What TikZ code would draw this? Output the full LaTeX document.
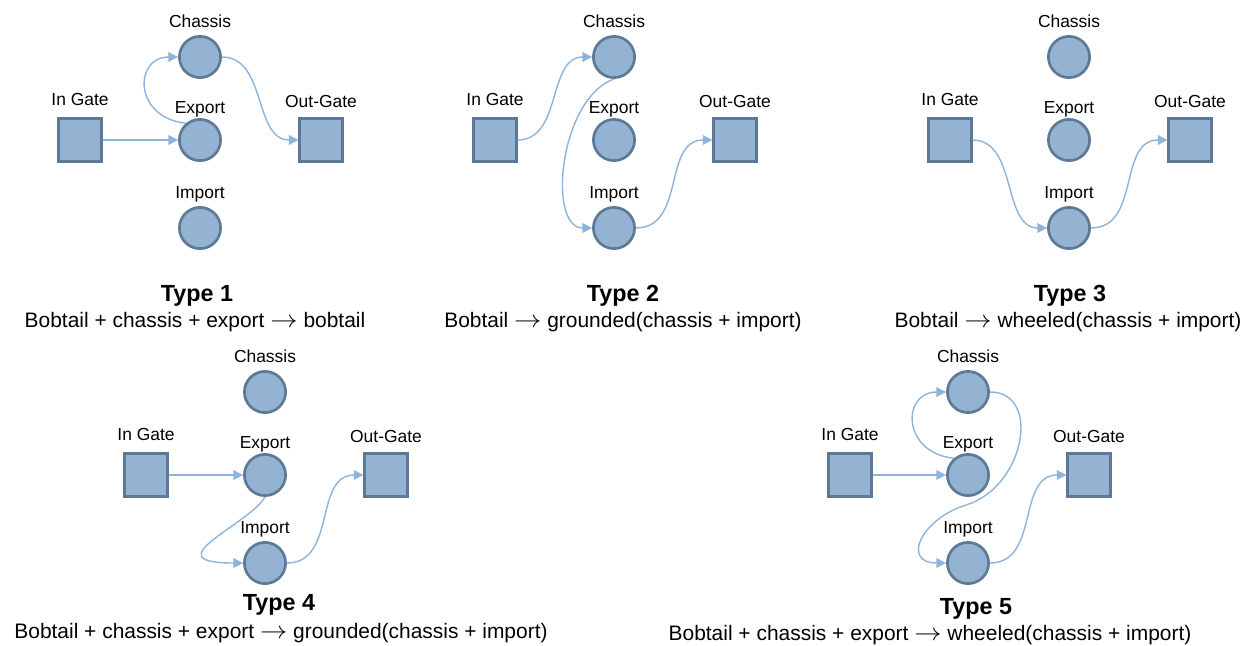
\documentclass[tikz,border=0pt]{standalone}
\usepackage{fontspec}
\setmainfont{Liberation Sans}
\usetikzlibrary{arrows.meta}
\definecolor{placefill}{RGB}{148,179,211}
\definecolor{placeline}{RGB}{94,121,150}
\definecolor{flowblue}{RGB}{141,180,218}
\newcommand{\yields}{\scalebox{1.35}[1.2]{$\rightarrow$}}

\begin{document}
\begin{tikzpicture}[
    x=0.25mm, y=-0.25mm,
    place/.style={circle, draw=placeline, fill=placefill, line width=1.9pt, minimum size=10.3mm, inner sep=0pt},
    gate/.style={rectangle, draw=placeline, fill=placefill, line width=1.9pt, minimum size=10.6mm, inner sep=0pt},
    lbl/.style={font=\fontsize{12.4}{14}\selectfont, anchor=base, inner sep=0pt},
    flow/.style={draw=flowblue, line width=1pt, -{Triangle[length=2.4mm, width=2.4mm]}},
    typetitle/.style={font=\fontsize{16.6}{19}\selectfont\bfseries, anchor=base, inner sep=0pt},
    reaction/.style={font=\fontsize{14.9}{18}\selectfont, anchor=base, inner sep=0pt}
]
    \useasboundingbox (0,0) rectangle (1256,645);

    % Places and gates of the five types
    \foreach \n/\xa/\xb/\xc/\dy in {1/80/200/321/0, 2/495/614/735/0, 3/950/1069/1190/0,
                                    4/146/265/386/335, 5/850/968/1089/335} {
        \node[gate, label={[lbl, label distance=3mm]above:In Gate}] (ig\n) at (\xa,140+\dy) {};
        \node[place, label={[lbl, label distance=1.9mm]above:Chassis}] (ch\n) at (\xb,57+\dy) {};
        \node[place, label={[lbl, label distance=1.1mm]above:Export}] (ex\n) at (\xb,140+\dy) {};
        \node[place, label={[lbl, label distance=1.9mm]above:Import}] (im\n) at (\xb,228+\dy) {};
        \node[gate, label={[lbl, label distance=2.6mm]above:Out-Gate}] (og\n) at (\xc,140+\dy) {};
    }

    % Type 1
    \draw[flow] (ig1) -- (ex1);
    \draw[flow] (ex1.130) .. controls +(-52,-5) and +(-45,0) .. (ch1.west);
    \draw[flow] (ch1.east) .. controls +(45,0) and +(-45,0) .. (og1.west);

    % Type 2
    \draw[flow] (ig2.east) .. controls +(45,0) and +(-45,0) .. (ch2.west);
    \draw[flow] (ch2.south) .. controls +(-55,20) and +(-45,0) .. (im2.west);
    \draw[flow] (im2.east) .. controls +(50,0) and +(-50,0) .. (og2.west);

    % Type 3
    \draw[flow] (ig3.east) .. controls +(45,0) and +(-45,0) .. (im3.west);
    \draw[flow] (im3.east) .. controls +(50,0) and +(-50,0) .. (og3.west);

    % Type 4
    \draw[flow] (ig4) -- (ex4);
    \draw[flow] (ex4.south) .. controls +(-15,27) and +(-92,0) .. (im4.west);
    \draw[flow] (im4.east) .. controls +(50,0) and +(-50,0) .. (og4.west);

    % Type 5
    \coordinate (m5) at (966,505);
    \draw[flow] (ig5) -- (ex5);
    \draw[flow] (ex5.130) .. controls +(-52,-5) and +(-45,0) .. (ch5.west);
    \draw[flow] (ch5.east) .. controls +(52,0) and +(59,-18) .. (m5)
                .. controls +(-45,14) and +(-45,0) .. (im5.west);
    \draw[flow] (im5.east) .. controls +(50,0) and +(-50,0) .. (og5.west);

    % Titles
    \node[typetitle] (t1) at (197,301) {Type 1};
    \node[reaction] (r1) at (195,327) {Bobtail + chassis + export \yields{} bobtail};
    \node[typetitle] (t2) at (623,301) {Type 2};
    \node[reaction] (r2) at (623,327) {Bobtail \yields{} grounded(chassis + import)};
    \node[typetitle] (t3) at (1070,301) {Type 3};
    \node[reaction] (r3) at (1068,327) {Bobtail \yields{} wheeled(chassis + import)};
    \node[typetitle] (t4) at (279,610) {Type 4};
    \node[reaction] (r4) at (281,638) {Bobtail + chassis + export \yields{} grounded(chassis + import)};
    \node[typetitle] (t5) at (976,614) {Type 5};
    \node[reaction] (r5) at (930,640) {Bobtail + chassis + export \yields{} wheeled(chassis + import)};
\end{tikzpicture}
\end{document}
